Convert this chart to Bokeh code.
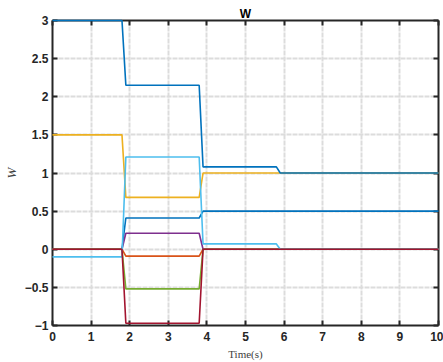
from bokeh.plotting import figure
from bokeh.models import LinearAxis, Range1d, FixedTicker, CustomJSTickFormatter
from bokeh.embed import file_html
from bokeh.resources import INLINE

time = [0, 1.8, 1.9, 3.8, 3.9, 5.8, 5.9, 10]
w1 = [0, 0, 0.41, 0.41, 0.5, 0.5, 0.5, 0.5]
w2 = [0, 0, -0.09, -0.09, 0, 0, 0, 0]
w3 = [1.5, 1.5, 0.68, 0.68, 1.0, 1.0, 1.0, 1.0]
w4 = [0, 0, 0.21, 0.21, 0, 0, 0, 0]
w5 = [0, 0, -0.52, -0.52, 0, 0, 0, 0]
w6 = [-0.1, -0.1, 1.21, 1.21, 0.07, 0.07, 0, 0]
w7 = [0, 0, -0.97, -0.97, 0, 0, 0, 0]
w8 = [3, 3, 2.15, 2.15, 1.08, 1.08, 1.0, 1.0]
series = [w1, w2, w3, w4, w5, w6, w7, w8]
colors = ["#0072BD", "#D95319", "#EDB120", "#7E2F8E", "#77AC30", "#4DBEEE", "#A2142F", "#0072BD"]

x_ticks = [0, 1, 2, 3, 4, 5, 6, 7, 8, 9, 10]
y_ticks = [-1, -0.5, 0, 0.5, 1, 1.5, 2, 2.5, 3]

p = figure(width=443, height=362, output_backend="svg", toolbar_location=None,
           x_range=Range1d(0, 10), y_range=Range1d(-1, 3),
           min_border_left=51, min_border_right=5, min_border_top=20, min_border_bottom=37)
p.title.text = "W"
p.title.align = "center"
p.title.text_font = "Liberation Sans"
p.title.text_font_size = "12px"
p.title.text_font_style = "bold"
p.title.text_color = "#000000"
p.title.standoff = 0

for s, c in zip(series, colors):
    r = p.line(time, s, color=c, line_width=1.6)
    r.level = "overlay"

for ax in (p.xaxis[0], p.yaxis[0]):
    ax.major_label_text_font = "Liberation Sans"
    ax.major_label_text_font_style = "bold"
    ax.major_label_text_font_size = "12px"
    ax.major_label_text_color = "#262626"
    ax.major_tick_in = 5
    ax.major_tick_out = 0
    ax.minor_tick_line_color = None
    ax.axis_line_color = "#262626"
    ax.axis_line_width = 2
    ax.major_tick_line_color = "#262626"
    ax.major_tick_line_width = 2
    ax.axis_label_text_font = "Liberation Serif"
    ax.axis_label_text_color = "#404040"

p.xaxis[0].ticker = FixedTicker(ticks=x_ticks)
p.yaxis[0].ticker = FixedTicker(ticks=y_ticks)
p.xaxis[0].axis_label = "Time(s)"
p.xaxis[0].axis_label_text_font_size = "11px"
p.xaxis[0].axis_label_text_font_style = "normal"
p.xaxis[0].axis_label_standoff = 4
p.xaxis[0].major_label_standoff = 6
p.yaxis[0].axis_label = "W"
p.yaxis[0].axis_label_text_font_size = "13px"
p.yaxis[0].axis_label_text_font_style = "italic"
p.yaxis[0].axis_label_standoff = 3
p.yaxis[0].major_label_standoff = 4

blank = CustomJSTickFormatter(code="return ''")
top = LinearAxis(ticker=FixedTicker(ticks=x_ticks), formatter=blank,
                 major_tick_in=5, major_tick_out=0, minor_tick_line_color=None,
                 axis_line_color="#262626", axis_line_width=2,
                 major_tick_line_color="#262626", major_tick_line_width=2,
                 major_label_standoff=0)
right = LinearAxis(ticker=FixedTicker(ticks=y_ticks), formatter=blank,
                   major_tick_in=5, major_tick_out=0, minor_tick_line_color=None,
                   axis_line_color="#262626", axis_line_width=2,
                   major_tick_line_color="#262626", major_tick_line_width=2,
                   major_label_standoff=0)
p.add_layout(top, "above")
p.add_layout(right, "right")

p.xgrid.ticker = FixedTicker(ticks=x_ticks)
p.ygrid.ticker = FixedTicker(ticks=y_ticks)
p.grid.grid_line_color = "#dcdcdc"
p.grid.grid_line_width = 2
p.grid.grid_line_dash = "5 1"
p.outline_line_color = None
p.background_fill_color = "white"
p.border_fill_color = "white"

open("out.html", "w").write(file_html(p, INLINE))
